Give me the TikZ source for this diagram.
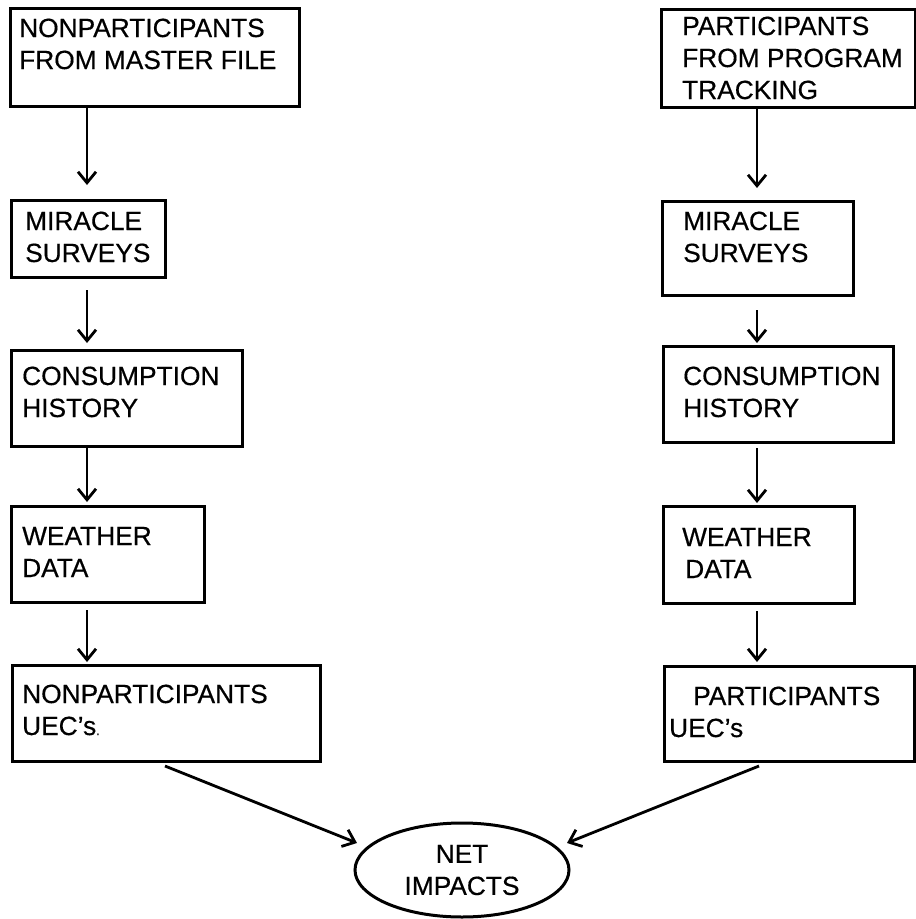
\documentclass[tikz,border=0pt]{standalone}
\usepackage{fontspec}
\setmainfont{Liberation Sans}[UprightFeatures={FakeBold=0.5}]
\usetikzlibrary{arrows.meta,shapes.geometric,calc}

\tikzset{
  stage/.style={draw, line width=3pt, rectangle, inner sep=0pt, anchor=north west},
  lbl/.style={inner sep=0pt, anchor=base west,
    font=\fontsize{26.3}{32}\selectfont},
  flow/.style={line width=2.8pt, -{Straight Barb[length=11pt,width=18pt,line width=2.8pt]}},
  goal/.style={draw, line width=3pt, ellipse, inner sep=0pt, align=center,
    font=\fontsize{26.3}{32}\selectfont}
}
\newcommand{\lines}[1]{\begin{tabular}[t]{@{}l@{}}#1\end{tabular}}

\begin{document}
\begin{tikzpicture}[x=1pt, y=-1pt]
\useasboundingbox (0,0) rectangle (916,919);

% column guides for the vertical connectors
\coordinate (colL) at (87,0);
\coordinate (colR) at (757,0);

% ---- left column: nonparticipants ----
\node[stage, minimum width=289pt, minimum height=98pt] (L1) at (9,7) {};
\node[lbl] (L1t) at (19,37) {\lines{NONPARTICIPANTS\\FROM MASTER FILE}};

\node[stage, minimum width=154pt, minimum height=77pt] (L2) at (10,199) {};
\node[lbl] (L2t) at (25,230) {\lines{MIRACLE\\SURVEYS}};

\node[stage, minimum width=231pt, minimum height=96pt] (L3) at (10,349) {};
\node[lbl] (L3t) at (22,385) {\lines{CONSUMPTION\\HISTORY}};

\node[stage, minimum width=193pt, minimum height=96pt] (L4) at (10,505) {};
\node[lbl] (L4t) at (22,545) {\lines{WEATHER\\DATA}};

\node[stage, minimum width=308pt, minimum height=96pt] (L5) at (11,664) {};
\node[lbl] (L5t) at (22,703) {\lines{NONPARTICIPANTS\\UEC’s{\fontsize{12}{12}\selectfont .}}};

% ---- right column: participants ----
\node[stage, minimum width=254pt, minimum height=98pt] (R1) at (660,8) {};
\node[lbl] (R1t) at (682,35) {\lines{PARTICIPANTS\\FROM PROGRAM\\TRACKING}};

\node[stage, minimum width=191pt, minimum height=94pt] (R2) at (661,200) {};
\node[lbl] (R2t) at (683,230) {\lines{MIRACLE\\SURVEYS}};

\node[stage, minimum width=230pt, minimum height=96pt] (R3) at (662,345) {};
\node[lbl] (R3t) at (683,385) {\lines{CONSUMPTION\\HISTORY}};

\node[stage, minimum width=191pt, minimum height=97pt] (R4) at (662,505) {};
\node[lbl] (R4t) at (682,546) {\lines{WEATHER\\\hspace*{3pt}DATA}};

\node[stage, minimum width=250pt, minimum height=95pt] (R5) at (663,665) {};
\node[lbl] (R5t) at (669,705) {\lines{\hspace*{24pt}PARTICIPANTS\\UEC’s}};

% ---- result ----
\node[goal, minimum width=214pt, minimum height=94pt] (NI) at (462,870) {NET\\IMPACTS};

% ---- connectors ----
\draw[flow, shorten >=14pt] (L1.south -| colL) -- (L2.north -| colL);
\draw[flow, shorten <=11pt, shorten >=6pt] (L2.south -| colL) -- (L3.north -| colL);
\draw[flow, shorten >=3pt] (L3.south -| colL) -- (L4.north -| colL);
\draw[flow, shorten <=6pt, shorten >=2pt] (L4.south -| colL) -- (L5.north -| colL);

\draw[flow, shorten >=12pt] (R1.south -| colR) -- (R2.north -| colR);
\draw[flow, shorten <=13pt, shorten >=2pt] (R2.south -| colR) -- (R3.north -| colR);
\draw[flow, shorten <=4pt, shorten >=2pt] (R3.south -| colR) -- (R4.north -| colR);
\draw[flow, shorten <=6pt, shorten >=3pt] (R4.south -| colR) -- (R5.north -| colR);

\draw[flow] ($(L5.south west)+(154,3)$) -- ($(NI.center)+(-105,-27)$);
\draw[flow] ($(R5.south west)+(96,3)$) -- ($(NI.center)+(105,-27)$);
\end{tikzpicture}
\end{document}
